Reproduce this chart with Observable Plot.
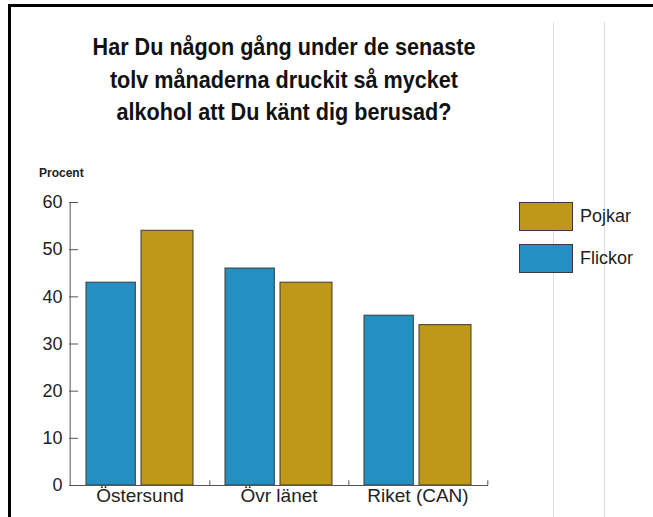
<!DOCTYPE html>
<html>
<head>
<meta charset="utf-8">
<script src="https://cdn.jsdelivr.net/npm/d3@7"></script>
<script src="https://cdn.jsdelivr.net/npm/@observablehq/plot@0.6"></script>
<style>
  html, body { margin: 0; padding: 0; background: #fff; width: 653px; height: 517px; overflow: hidden; }
  body { position: relative; font-family: "Liberation Sans", Arial, sans-serif; color: #222; }
  #frame { position: absolute; left: 8px; top: 4px; width: 700px; height: 600px; border-top: 3px solid #000; border-left: 3px solid #000; }
  .vline { position: absolute; top: 22px; bottom: 0; width: 1px; background: #dcdcdc; }
  #title { position: absolute; left: 0; top: 31px; width: 568px; text-align: center; font-weight: bold; font-size: 24px; line-height: 32.5px; color: #111; transform: scaleX(0.9); transform-origin: 284px 0; white-space: nowrap; }
  #ylabel { position: absolute; left: 39px; top: 165px; font-weight: bold; font-size: 12px; line-height: 16px; color: #222; }
  #chart { position: absolute; left: 0; top: 150px; }
  .leg { position: absolute; left: 519px; width: 52px; height: 27px; border: 1px solid #3a3a3a; box-sizing: content-box; }
  .legtxt { position: absolute; left: 580px; font-size: 18px; line-height: 20px; color: #222; }
</style>
</head>
<body>
<div id="frame"></div>
<div class="vline" style="left:553px"></div>
<div class="vline" style="left:604px"></div>
<div id="title"></div>
<div id="ylabel"></div>
<div id="chart"></div>
<div id="legend"></div>
<script>
const titleLines = ["Har Du någon gång under de senaste", "tolv månaderna druckit så mycket", "alkohol att Du känt dig berusad?"];
const yLabel = "Procent";
const categories = ["Östersund", "Övr länet", "Riket (CAN)"];
const flickor = [43, 46, 36];
const pojkar = [54, 43, 34];
const yTicks = [0, 10, 20, 30, 40, 50, 60];
const seriesNames = ["Pojkar", "Flickor"];
const colors = {Pojkar: "#bf9817", Flickor: "#2390c1"};

document.getElementById("title").innerHTML = titleLines.join("<br>");
document.getElementById("ylabel").textContent = yLabel;

const dataF = categories.map((c, i) => ({cat: c, value: flickor[i], sex: "Flickor"}));
const dataP = categories.map((c, i) => ({cat: c, value: pojkar[i], sex: "Pojkar"}));

const W = 500, H = 367, ML = 69, MR = 12, MT = 52, MB = 32;
const bw = (W - ML - MR) / categories.length;

const chart = Plot.plot({
  width: W,
  height: H,
  marginLeft: ML,
  marginRight: MR,
  marginTop: MT,
  marginBottom: MB,
  style: {fontFamily: "'Liberation Sans', Arial, sans-serif", fontSize: "17px", color: "#222", background: "transparent", overflow: "visible"},
  x: {domain: categories, padding: 0, label: null},
  y: {domain: [0, 60], label: null},
  color: {domain: seriesNames, range: seriesNames.map(s => colors[s])},
  marks: [
    Plot.barY(dataF, {x: "cat", y: "value", fill: "sex", stroke: "#3a3a3a", strokeWidth: 1, insetLeft: 16, insetRight: bw - 66}),
    Plot.barY(dataP, {x: "cat", y: "value", fill: "sex", stroke: "#3a3a3a", strokeWidth: 1, insetLeft: 71, insetRight: 16}),
    Plot.ruleY(yTicks, {y: d => d, stroke: "#555", insetRight: W - ML - MR - 9}),
    Plot.ruleX(categories, {x: d => d, dx: bw / 2, y1: 0, y2: 1, stroke: "#555"}),
    Plot.ruleY([0], {stroke: "#555"}),
    Plot.ruleX([categories[0]], {x: d => d, dx: -bw / 2, y1: 0, y2: 60, stroke: "#555"}),
    Plot.axisY({ticks: yTicks, tickSize: 0, tickPadding: 7, label: null, fontSize: 18}),
    Plot.axisX({tickSize: 0, tickPadding: 3, label: null, fontSize: 19})
  ]
});
document.getElementById("chart").appendChild(chart);

const legend = document.getElementById("legend");
const legTops = {Pojkar: 202, Flickor: 244};
seriesNames.forEach(s => {
  const box = document.createElement("div");
  box.className = "leg";
  box.style.top = legTops[s] + "px";
  box.style.background = colors[s];
  legend.appendChild(box);
  const t = document.createElement("div");
  t.className = "legtxt";
  t.style.top = (legTops[s] + 4) + "px";
  t.textContent = s;
  legend.appendChild(t);
});
</script>
</body>
</html>
